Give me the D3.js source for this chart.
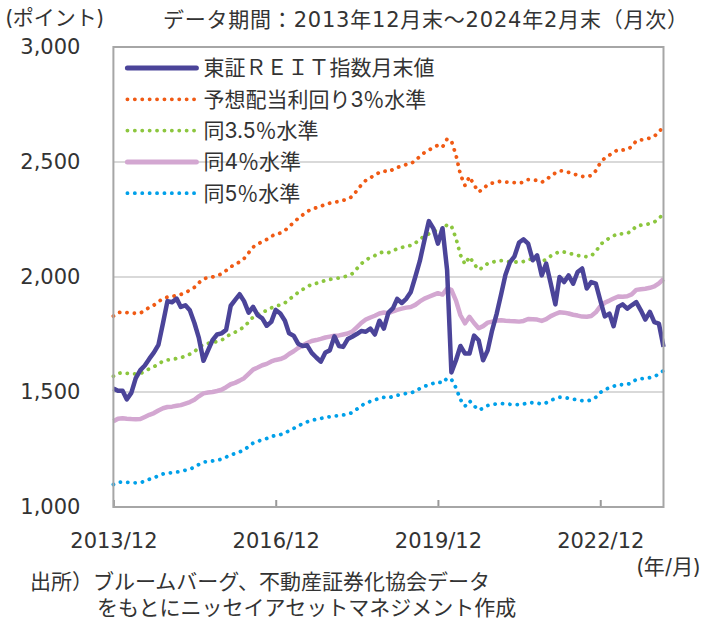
<!DOCTYPE html>
<html>
<head>
<meta charset="utf-8">
<script src="https://cdn.jsdelivr.net/npm/d3@7/dist/d3.min.js"></script>
<style>
  body { margin: 0; background: #fff; }
  svg text { font-family: Inter, "Noto Sans CJK JP", sans-serif; fill: #333; }
  svg text.num { font-family: "DejaVu Sans", "Noto Sans CJK JP", sans-serif; }
</style>
</head>
<body>
<div id="chart"></div>
<script>
// monthly, 2013/12 .. 2024/02
const startMonth = new Date(2013, 11, 1);
const tickMonths = ['2013/12', '2016/12', '2019/12', '2022/12'];
const yTicks = [1000, 1500, 2000, 2500, 3000];
const gridValues = [1500, 2000, 2500];

// 東証REIT指数 月末値
const reitIndex = [
  1515, 1505, 1505, 1468, 1496, 1560, 1595, 1615, 1645, 1672,
  1705, 1800, 1895, 1890, 1906, 1870, 1877, 1855, 1800, 1735,
  1636, 1681, 1725, 1750, 1755, 1770, 1875, 1899, 1925, 1895,
  1845, 1870, 1834, 1820, 1788, 1805, 1857, 1841, 1810, 1755,
  1745, 1710, 1700, 1703, 1670, 1650, 1632, 1672, 1681, 1742,
  1700, 1696, 1730, 1740, 1752, 1765, 1762, 1776, 1750, 1810,
  1776, 1845, 1865, 1905, 1887, 1905, 1935, 2000, 2070, 2160,
  2243, 2210, 2145, 2212, 2030, 1585, 1638, 1700, 1667, 1667,
  1745, 1725, 1638, 1681, 1768, 1841, 1928, 2010, 2065, 2090,
  2150, 2164, 2145, 2073, 2094, 2007, 2058, 1971, 1881, 2000,
  1978, 2007, 1971, 2022, 2037, 1950, 1978, 1971, 1899, 1829,
  1841, 1786, 1870, 1881, 1862, 1877, 1891, 1855, 1815, 1848,
  1804, 1797, 1696
];

// 予想配当利回り3%水準
const level3pct = [
  1830, 1845, 1848, 1845, 1843, 1842, 1843, 1855, 1868, 1878,
  1893, 1906, 1913, 1915, 1920, 1924, 1933, 1942, 1955, 1975,
  1992, 1997, 2000, 2006, 2013, 2028, 2045, 2053, 2066, 2080,
  2105, 2130, 2142, 2155, 2163, 2177, 2186, 2191, 2202, 2220,
  2236, 2255, 2270, 2284, 2296, 2301, 2308, 2316, 2321, 2326,
  2328, 2333, 2339, 2350, 2375, 2400, 2420, 2432, 2442, 2455,
  2461, 2457, 2468, 2476, 2483, 2489, 2493, 2505, 2525, 2541,
  2552, 2563, 2573, 2565, 2600, 2592, 2530, 2445, 2398, 2436,
  2400, 2370, 2382, 2402, 2408, 2414, 2416, 2413, 2411, 2410,
  2408, 2412, 2423, 2422, 2420, 2412, 2422, 2440, 2452, 2462,
  2460, 2455, 2448, 2443, 2437, 2436, 2441, 2462, 2496, 2518,
  2530, 2542, 2554, 2552, 2555, 2566, 2592, 2596, 2599, 2604,
  2612, 2630, 2655
];

// yield levels shown; each level = expected dividend / yield
const yieldRates = [0.03, 0.035, 0.04, 0.05];
const seriesNames = ['東証ＲＥＩＴ指数月末値', '予想配当利回り3％水準', '同3.5％水準', '同4％水準', '同5％水準'];
const seriesColors = ['#4b4499', '#f05a14', '#8cc63e', '#d3a7d1', '#00a0e9'];
const seriesDotted = [false, true, true, false, true];

const W = 704, H = 622;
const margin = { top: 47, right: 40.5, bottom: 115, left: 113.4 };
const width = W - margin.left - margin.right;
const height = H - margin.top - margin.bottom;

const months = reitIndex.map((d, i) => d3.timeMonth.offset(startMonth, i));
const dividend = level3pct.map(v => v * yieldRates[0]);

const seriesData = [reitIndex].concat(yieldRates.map(r => dividend.map(dv => dv / r)));

const svg = d3.select('#chart').append('svg')
  .attr('width', W).attr('height', H);

const chart = svg.append('g')
  .attr('transform', `translate(${margin.left},${margin.top})`);

const x = d3.scaleTime()
  .domain([months[0], months[months.length - 1]])
  .range([0, width]);
const y = d3.scaleLinear().domain([1000, 3000]).range([height, 0]);

// gridlines
chart.selectAll('.grid')
  .data(gridValues)
  .join('line')
  .attr('x1', 0).attr('x2', width)
  .attr('y1', d => y(d)).attr('y2', d => y(d))
  .attr('stroke', '#d9d9d9').attr('stroke-width', 2);

// y axis labels
const yAxis = chart.append('g')
  .call(d3.axisLeft(y).tickValues(yTicks).tickSize(0).tickPadding(33).tickFormat(d3.format(',')));
yAxis.select('.domain').remove();
yAxis.selectAll('text').attr('class', 'num').style('font-size', '21px').attr('fill', '#333');

// x axis
const parseTick = d3.timeParse('%Y/%m');
const xAxis = chart.append('g')
  .attr('transform', `translate(0,${height})`)
  .call(d3.axisBottom(x).tickValues(tickMonths.map(parseTick)).tickSize(-7).tickPadding(26)
    .tickFormat(d3.timeFormat('%Y/%m')));
xAxis.select('.domain').remove();
xAxis.selectAll('line').attr('stroke', '#999').attr('stroke-width', 2);
xAxis.selectAll('text').attr('class', 'num').style('font-size', '21px').attr('fill', '#333');

// lines
const line = d3.line()
  .x((d, i) => x(months[i]))
  .y(d => y(d));

const order = [1, 2, 4, 3, 0];
chart.selectAll('.series')
  .data(order)
  .join('path')
  .attr('class', 'series')
  .attr('d', k => line(seriesData[k]))
  .attr('fill', 'none')
  .attr('stroke', k => seriesColors[k])
  .attr('stroke-width', k => seriesDotted[k] ? 3.8 : 4.5)
  .attr('stroke-linecap', k => seriesDotted[k] ? 'round' : 'butt')
  .attr('stroke-linejoin', 'round')
  .attr('stroke-dasharray', k => seriesDotted[k] ? '0.1 7.3' : null);

// frame
chart.append('rect')
  .attr('width', width).attr('height', height)
  .attr('fill', 'none').attr('stroke', '#a6a6a6').attr('stroke-width', 2);

// legend
const legend = chart.append('g').attr('transform', 'translate(12,21)');
const rows = legend.selectAll('g')
  .data(seriesNames)
  .join('g')
  .attr('transform', (d, i) => `translate(0,${i * 31.3})`);
rows.append('line')
  .attr('x1', 2).attr('x2', 71)
  .attr('stroke', (d, i) => seriesColors[i])
  .attr('stroke-width', (d, i) => seriesDotted[i] ? 3.8 : 5)
  .attr('stroke-linecap', 'round')
  .attr('stroke-dasharray', (d, i) => seriesDotted[i] ? '0.1 7.3' : null);
rows.append('text')
  .attr('x', 78).attr('dy', '0.35em')
  .style('font-size', '21px')
  .text(d => d);

// titles / notes
svg.append('text').attr('x', 5).attr('y', 25).style('font-size', '21px').text('(ポイント)');
svg.append('text').attr('class', 'num').attr('x', 163).attr('y', 27).style('font-size', '21px')
  .attr('textLength', 525).attr('lengthAdjust', 'spacing')
  .text('データ期間：2013年12月末～2024年2月末（月次）');
svg.append('text').attr('x', 701).attr('y', 574).attr('text-anchor', 'end').style('font-size', '21px').text('(年/月)');
svg.append('text').attr('x', 30).attr('y', 589).style('font-size', '21px').text('出所）ブルームバーグ、不動産証券化協会データ');
svg.append('text').attr('x', 97).attr('y', 615).style('font-size', '21px').text('をもとにニッセイアセットマネジメント作成');
</script>
</body>
</html>
